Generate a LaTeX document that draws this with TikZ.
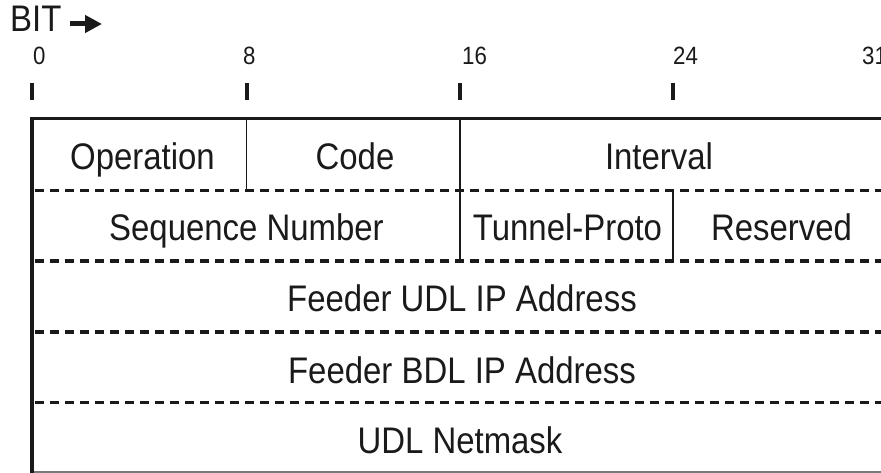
\documentclass[tikz,border=0pt]{standalone}
\usepackage{fontspec}
\setmainfont{Liberation Sans}[FakeStretch=0.89]
\usetikzlibrary{arrows.meta}

\definecolor{ink}{HTML}{1A1A1A}
\definecolor{rule}{HTML}{7A7A7A}

\begin{document}
\begin{tikzpicture}[x=1pt,y=-1pt,
  field/.style={anchor=base, inner sep=0pt, font=\fontsize{37}{40}\selectfont, text=ink},
  bitnum/.style={anchor=base west, inner sep=0pt, font=\fontsize{25}{28}\selectfont, text=ink},
  bittick/.style={line width=4pt, draw=ink},
  border/.style={line width=3.6pt, draw=ink},
  divider/.style={line width=1.7pt, draw=ink},
  rowsep/.style={line width=3.2pt, draw=ink, dash pattern=on 9pt off 6pt},
  baseline rule/.style={line width=1.8pt, draw=rule},
]
\useasboundingbox (0,0) rectangle (881,473);

% bit-order legend
\node[field, anchor=base west] (bit) at (10,32) {BIT};
\coordinate (arrowtail) at (70,24);
\coordinate (arrowtip) at (102,24);
\draw[line width=5pt, draw=ink, -{Triangle[length=17pt,width=17pt]}] (arrowtail) -- (arrowtip);

% bit numbers
\node[bitnum] (b0)  at (33,65)  {0};
\node[bitnum] (b8)  at (243,65) {8};
\node[bitnum] (b16) at (462,65) {16};
\node[bitnum] (b24) at (673,65) {24};
\node[bitnum] (b31) at (862,65) {31};

% tick marks
\foreach \x/\n in {32/t0, 246.5/t8, 460/t16, 673/t24} {
  \coordinate (\n a) at (\x,83);
  \coordinate (\n b) at (\x,100);
  \draw[bittick] (\n a) -- (\n b);
}

% frame
\coordinate (tl) at (32,118.5);
\coordinate (tr) at (881,118.5);
\coordinate (bl) at (32,473);
\coordinate (bbl) at (32,472);
\coordinate (bbr) at (881,472);
\draw[baseline rule] (bbl) -- (bbr);
\draw[border] ([xshift=-1.8pt]tl) -- (tr);
\draw[border] ([yshift=-1.8pt]tl) -- (bl);

% row separators
\foreach \y/\n in {190.5/r1, 261/r2, 332/r3, 402.5/r4} {
  \coordinate (\n l) at (35,\y);
  \coordinate (\n r) at (881,\y);
  \draw[rowsep] (\n l) -- (\n r);
}

% field dividers
\coordinate (d8t) at (246.5,118.5);  \coordinate (d8b) at (246.5,190.5);
\coordinate (d16t) at (460,118.5);   \coordinate (d16b) at (460,261);
\coordinate (d24t) at (673,190.5);   \coordinate (d24b) at (673,261);
\draw[divider] (d8t) -- (d8b);
\draw[divider] (d16t) -- (d16b);
\draw[divider] (d24t) -- (d24b);

% field labels
\node[field] (op)   at (142.5,169.5) {Operation};
\node[field] (code) at (355,169.5)   {Code};
\node[field] (ivl)  at (659,169.5)   {Interval};
\node[field] (seq)  at (246.5,241)   {Sequence Number};
\node[field] (tun)  at (567.5,241)   {Tunnel-Proto};
\node[field] (res)  at (781.5,241)   {Reserved};
\node[field] (udl)  at (462,311.5)   {Feeder UDL IP Address};
\node[field] (bdl)  at (462,383)     {Feeder BDL IP Address};
\node[field] (mask) at (460,453.5)   {UDL Netmask};
\end{tikzpicture}
\end{document}
